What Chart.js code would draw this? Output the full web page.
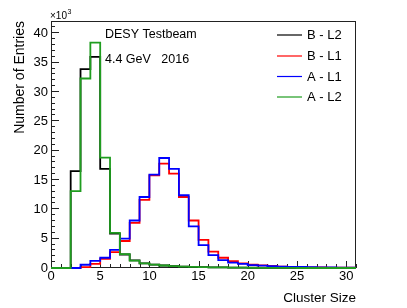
<!DOCTYPE html>
<html>
<head>
<meta charset="utf-8">
<script src="https://cdn.jsdelivr.net/npm/chart.js@4.4.1/dist/chart.umd.min.js"></script>
<style>
  html, body { margin: 0; padding: 0; background: #fff; }
  canvas { display: block; }
</style>
</head>
<body>
<canvas id="chart" width="407" height="308"></canvas>
<script>
// bin edges 0..31, one value per bin (entries)
const binEdges = [0, 1, 2, 3, 4, 5, 6, 7, 8, 9, 10, 11, 12, 13, 14, 15, 16, 17, 18, 19, 20,
  21, 22, 23, 24, 25, 26, 27, 28, 29, 30, 31];
const seriesLabels = ["B - L2", "B - L1", "A - L1", "A - L2"];
const bL2 = [0, 0, 16500, 33900, 36000, 16900, 5850, 2300, 1300, 800, 580, 430, 300, 230, 180, 140,
  110, 90, 70, 55, 45, 35, 30, 25, 20, 15, 12, 10, 8, 6, 5];
const bL1 = [0, 0, 0, 150, 700, 1550, 2700, 4600, 7700, 11600, 15800, 17800, 16100, 12100, 8100, 4800,
  2800, 1750, 1150, 800, 550, 450, 350, 250, 200, 150, 120, 100, 80, 60, 50];
const aL1 = [0, 0, 0, 550, 1200, 1750, 3100, 5000, 8100, 12100, 15900, 18750, 16900, 12400, 7100, 3900,
  2200, 1350, 900, 700, 500, 400, 300, 250, 200, 170, 140, 120, 100, 80, 70];
const aL2 = [0, 0, 13100, 32300, 38400, 18800, 6000, 2350, 1250, 780, 560, 430, 320, 250, 200, 150,
  120, 90, 70, 50, 35, 25, 15, 10, 5, 0, 0, 0, 0, 0, 0];
const xTicks = [0, 5, 10, 15, 20, 25, 30];
const yTicks = [0, 5000, 10000, 15000, 20000, 25000, 30000, 35000, 40000];
const infoLines = ["DESY Testbeam", "4.4 GeV   2016"];

const FONT = '"Liberation Sans", Arial, Helvetica, sans-serif';
const colors = ["#000000", "#ff0000", "#0000ff", "#1f9d1f"];

// turn bin contents into step points (left edge of each bin + closing edge)
function histPoints(values) {
  const pts = values.map((v, i) => ({ x: binEdges[i], y: v }));
  pts.push({ x: binEdges[values.length], y: values[values.length - 1] });
  return pts;
}

// ROOT-like frame, inward ticks, legend and labels
const rootStyle = {
  id: "rootStyle",
  beforeDatasetsDraw(chart) {
    const { ctx, chartArea: a, scales: { x, y } } = chart;
    ctx.save();
    ctx.strokeStyle = "#222";
    ctx.lineWidth = 1;
    ctx.strokeRect(a.left + 0.5, a.top + 0.5, a.right - a.left - 1, a.bottom - a.top - 1);
    ctx.beginPath();
    for (let v = 0; v <= 31; v++) {
      const px = Math.round(x.getPixelForValue(v)) + 0.5;
      const len = v % 5 === 0 ? 7 : 4;
      ctx.moveTo(px, a.bottom);
      ctx.lineTo(px, a.bottom - len);
    }
    for (let v = 0; v <= 42000; v += 1000) {
      const py = Math.round(y.getPixelForValue(v)) - 0.5;
      const len = v % 5000 === 0 ? 8 : 4;
      ctx.moveTo(a.left, py);
      ctx.lineTo(a.left + len, py);
    }
    ctx.stroke();
    ctx.restore();
  },
  afterDatasetsDraw(chart) {
    const { ctx, chartArea: a } = chart;
    ctx.save();
    ctx.fillStyle = "#000";
    ctx.textBaseline = "middle";
    ctx.textAlign = "left";

    // x10^3 multiplier
    ctx.font = "10px " + FONT;
    ctx.fillText("\u00d710", a.left - 1, 16);
    const w = ctx.measureText("\u00d710").width;
    ctx.font = "7px " + FONT;
    ctx.fillText("3", a.left - 1 + w + 0.5, 12);

    // info text
    ctx.font = "12.5px " + FONT;
    ctx.fillText(infoLines[0], 105, 35);
    ctx.fillText(infoLines[1], 105, 60);

    // legend
    const rows = [35, 56, 76.5, 97];
    ctx.font = "13px " + FONT;
    seriesLabels.forEach((lab, i) => {
      ctx.strokeStyle = colors[i];
      ctx.lineWidth = 1.2;
      ctx.beginPath();
      ctx.moveTo(277, rows[i]);
      ctx.lineTo(302, rows[i]);
      ctx.stroke();
      ctx.fillText(lab, 307, rows[i] + 0.5);
    });
    ctx.restore();
  }
};

const allSeries = [bL2, bL1, aL1, aL2];
// first dataset is drawn last, so reverse to keep A - L2 on top
const datasets = allSeries.map((vals, i) => ({
  label: seriesLabels[i],
  data: histPoints(vals),
  borderColor: colors[i],
  borderWidth: 1.8,
  stepped: "before",
  pointRadius: 0,
  fill: false,
  clip: 3
})).reverse();

new Chart(document.getElementById("chart").getContext("2d"), {
  type: "line",
  data: { datasets },
  plugins: [rootStyle],
  options: {
    responsive: false,
    animation: false,
    layout: { padding: { top: 21, right: 51, left: 0, bottom: 0 } },
    plugins: { legend: { display: false }, tooltip: { enabled: false } },
    scales: {
      x: {
        type: "linear",
        min: 0,
        max: 31,
        afterFit(s) { s.height = 40; },
        afterBuildTicks(s) { s.ticks = xTicks.map(v => ({ value: v })); },
        grid: { display: false, drawTicks: false, tickLength: 0 },
        border: { display: false },
        ticks: {
          includeBounds: false,
          maxRotation: 0,
          padding: 1,
          color: "#000",
          font: { family: FONT, size: 13 }
        },
        title: {
          display: true,
          text: "Cluster Size",
          align: "end",
          color: "#000",
          font: { family: FONT, size: 13.5 },
          padding: { top: 0, bottom: 2 }
        }
      },
      y: {
        type: "linear",
        min: 0,
        max: 42100,
        afterFit(s) { s.width = 51; },
        afterBuildTicks(s) { s.ticks = yTicks.map(v => ({ value: v })); },
        grid: { display: false, drawTicks: false, tickLength: 0 },
        border: { display: false },
        ticks: {
          padding: 3,
          color: "#000",
          font: { family: FONT, size: 13 },
          callback: v => String(v / 1000)
        },
        title: {
          display: true,
          text: "Number of Entries",
          align: "end",
          color: "#000",
          font: { family: FONT, size: 14 },
          padding: { top: 12, bottom: 0 }
        }
      }
    }
  }
});
</script>
</body>
</html>
